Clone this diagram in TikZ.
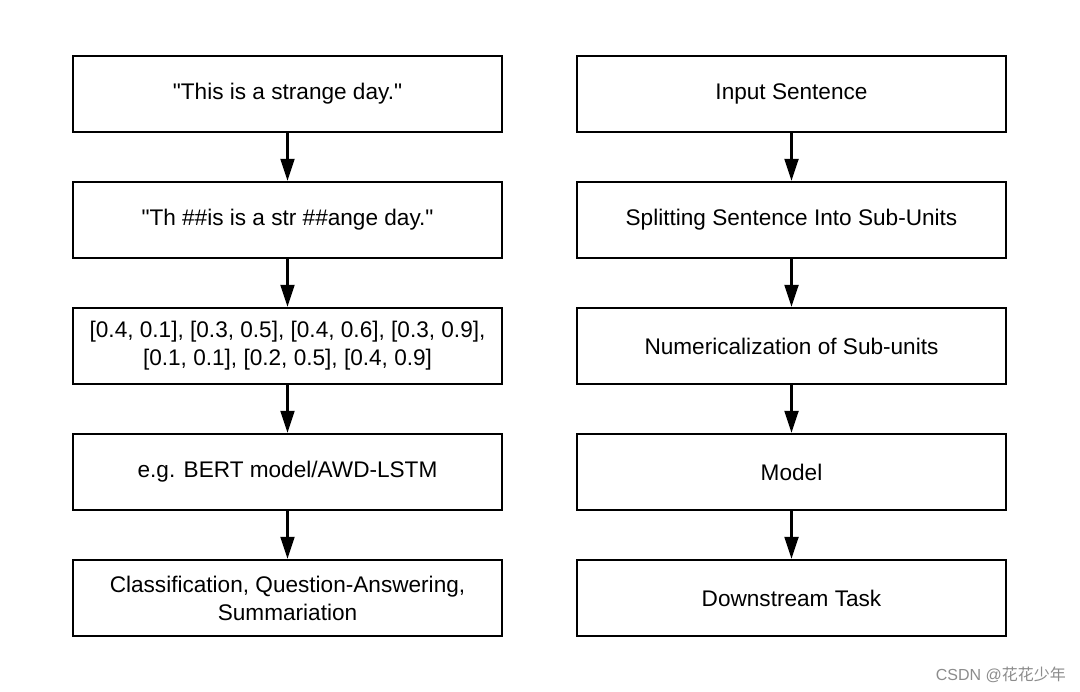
\documentclass[tikz,border=0pt]{standalone}
\usepackage{fontspec}
\setmainfont{Liberation Sans}[Ligatures=TeXOff]
\newfontfamily\cjk{Noto Sans CJK SC}
\usetikzlibrary{arrows.meta}
\begin{document}
\begin{tikzpicture}[x=1pt,y=-1pt,
  box/.style={draw=black,line width=2.4pt,minimum width=429pt,minimum height=76pt,inner sep=0pt,align=center,font=\fontsize{22.6}{28}\selectfont,anchor=center},
  arr/.style={line width=2.2pt,-{Triangle[width=14pt,length=22pt]}}]
\useasboundingbox (0,0) rectangle (1080,692);
\fill[white] (0,0) rectangle (1080,692);
\node[box] (l1) at (287.5,94) {"This is a strange day."};
\node[box] (l2) at (287.5,220) {"Th \#\#is is a str \#\#ange day."};
\node[box] (l3) at (287.5,346) {[0.4, 0.1], [0.3, 0.5], [0.4, 0.6], [0.3, 0.9],\\{}[0.1, 0.1], [0.2, 0.5], [0.4, 0.9]};
\node[box] (l4) at (287.5,472) {e.g. BERT model/AWD-LSTM};
\node[box] (l5) at (287.5,598) {Classification, Question-Answering,\\ Summariation};
\node[box] (r1) at (791.5,94) {Input Sentence};
\node[box] (r2) at (791.5,220) {Splitting Sentence Into Sub-Units};
\node[box] (r3) at (791.5,346) {Numericalization of Sub-units};
\node[box] (r4) at (791.5,472) {Model};
\node[box] (r5) at (791.5,598) {Downstream Task};
\foreach \s in {l,r}{
  \draw[arr] (\s1) -- (\s2);
  \draw[arr] (\s2) -- (\s3);
  \draw[arr] (\s3) -- (\s4);
  \draw[arr] (\s4) -- (\s5);
}
\node[text=black!45,font=\fontsize{16}{18}\selectfont,anchor=east,inner sep=0pt] (wm) at (1066,675) {CSDN @{\cjk 花花少年}};
\end{tikzpicture}
\end{document}
